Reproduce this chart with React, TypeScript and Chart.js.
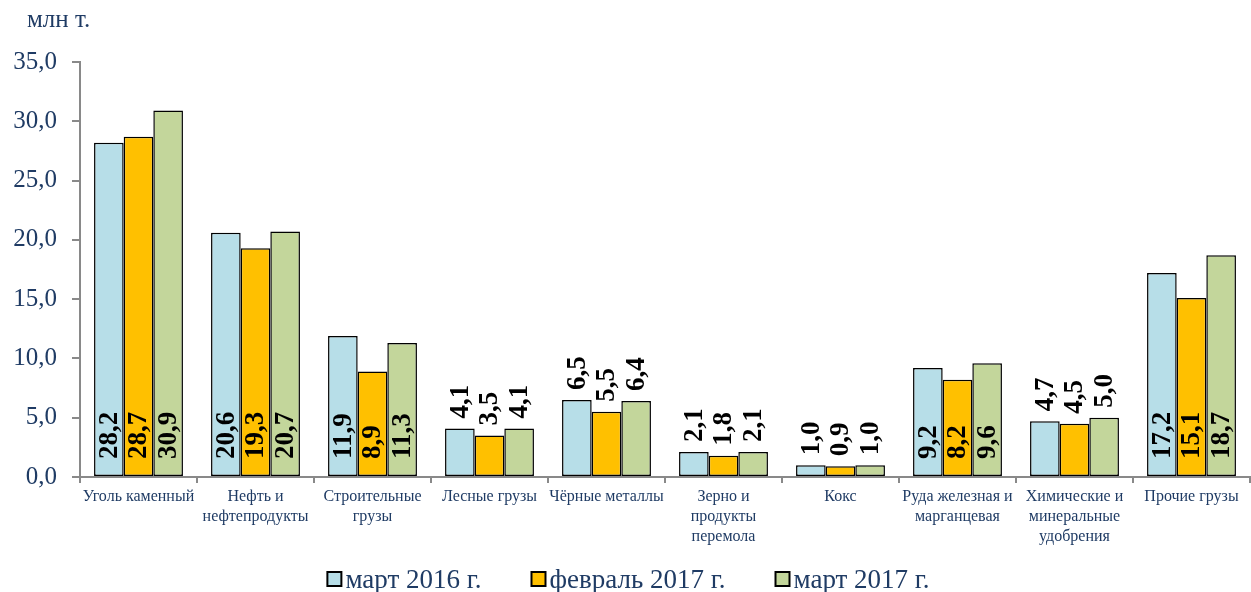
import React, { useEffect, useRef } from "react";
import { Chart, registerables } from "chart.js";

Chart.register(...registerables);

const categories: string[][] = [
  ["Уголь каменный"],
  ["Нефть и", "нефтепродукты"],
  ["Строительные", "грузы"],
  ["Лесные грузы"],
  ["Чёрные металлы"],
  ["Зерно и", "продукты", "перемола"],
  ["Кокс"],
  ["Руда железная и", "марганцевая"],
  ["Химические и", "минеральные", "удобрения"],
  ["Прочие грузы"],
];

const seriesNames = ["март 2016 г.", "февраль 2017 г.", "март 2017 г."];
const march2016 = [28.2, 20.6, 11.9, 4.1, 6.5, 2.1, 1.0, 9.2, 4.7, 17.2];
const feb2017 = [28.7, 19.3, 8.9, 3.5, 5.5, 1.8, 0.9, 8.2, 4.5, 15.1];
const march2017 = [30.9, 20.7, 11.3, 4.1, 6.4, 2.1, 1.0, 9.6, 5.0, 18.7];
const colors = ["#B7DEE8", "#FFC000", "#C3D69B"];
const yTicks = [0, 5, 10, 15, 20, 25, 30, 35];
const unitLabel = "млн т.";

const TEXT = "#1F3B64";
const AXIS = "#898989";
const SERIF = "'Liberation Serif', 'Times New Roman', serif";

const fmt = (v: number) => v.toFixed(1).replace(".", ",");

const labelPlugin = {
  id: "barLabels",
  afterDatasetsDraw(chart: any) {
    const ctx = chart.ctx;
    ctx.save();
    ctx.font = `bold 27px ${SERIF}`;
    ctx.fillStyle = "#000";
    ctx.textBaseline = "middle";
    ctx.textAlign = "left";
    chart.data.datasets.forEach((ds: any, di: number) => {
      const meta = chart.getDatasetMeta(di);
      meta.data.forEach((bar: any, i: number) => {
        const v = ds.data[i];
        const inside = v >= 7;
        const yStart = inside ? bar.base - 17 : bar.y - 10;
        ctx.save();
        ctx.translate(bar.x + 1, yStart);
        ctx.rotate(-Math.PI / 2);
        ctx.fillText(fmt(v), 0, 0);
        ctx.restore();
      });
    });
    ctx.restore();
  },
};

const decorPlugin = {
  id: "decor",
  afterDraw(chart: any) {
    const ctx = chart.ctx;
    ctx.save();
    // unit label
    ctx.font = `25px ${SERIF}`;
    ctx.fillStyle = TEXT;
    ctx.textAlign = "left";
    ctx.textBaseline = "alphabetic";
    ctx.fillText(unitLabel, 27, 27);
    // legend
    ctx.font = `27px ${SERIF}`;
    const box = 14;
    const gapBox = 4;
    const gapItem = 50;
    const widths = seriesNames.map((s) => ctx.measureText(s).width);
    const total =
      widths.reduce((a, w) => a + box + gapBox + w, 0) + gapItem * (seriesNames.length - 1);
    let x = chart.width / 2 - total / 2 + 3;
    const cy = 579;
    seriesNames.forEach((s, i) => {
      ctx.fillStyle = colors[i];
      ctx.fillRect(x, cy - box / 2, box, box);
      ctx.lineWidth = 2;
      ctx.strokeStyle = "#000";
      ctx.strokeRect(x, cy - box / 2, box, box);
      ctx.fillStyle = TEXT;
      ctx.textBaseline = "alphabetic";
      ctx.fillText(s, x + box + gapBox, cy + 9);
      x += box + gapBox + widths[i] + gapItem;
    });
    ctx.restore();
  },
};

export default function App() {
  const ref = useRef<HTMLCanvasElement | null>(null);
  useEffect(() => {
    document.body.style.margin = "0";
    if (!ref.current) return;
    const data = [march2016, feb2017, march2017];
    const chart = new Chart(ref.current, {
      type: "bar",
      data: {
        labels: categories,
        datasets: seriesNames.map((name, i) => ({
          label: name,
          data: data[i],
          backgroundColor: colors[i],
          borderColor: "#000",
          borderWidth: 1.5,
          borderSkipped: false,
          categoryPercentage: 0.76,
          barPercentage: 1.0,
        })),
      },
      options: {
        responsive: false,
        animation: false,
        layout: { padding: { top: 62, right: 1, bottom: 0, left: 0 } },
        plugins: {
          legend: { display: false },
          tooltip: { enabled: false },
          title: { display: false },
        },
        scales: {
          x: {
            grid: {
              drawOnChartArea: false,
              drawTicks: true,
              tickLength: 6,
              color: AXIS,
              lineWidth: 2,
              offset: true,
            },
            border: { color: AXIS, width: 2 },
            ticks: {
              color: TEXT,
              font: { family: SERIF, size: 16, lineHeight: 1.25 },
              padding: 4,
              maxRotation: 0,
              minRotation: 0,
              autoSkip: false,
            },
            afterFit: (scale: any) => {
              scale.height = 115;
            },
          },
          y: {
            min: 0,
            max: 35,
            afterBuildTicks: (scale: any) => {
              scale.ticks = yTicks.map((v) => ({ value: v }));
            },
            grid: {
              drawOnChartArea: false,
              drawTicks: true,
              tickLength: 8,
              color: AXIS,
              lineWidth: 2,
            },
            border: { color: AXIS, width: 2 },
            ticks: {
              color: TEXT,
              font: { family: SERIF, size: 25 },
              padding: 15,
              callback: (v: any) => fmt(Number(v)),
            },
            afterFit: (scale: any) => {
              scale.width = 80;
            },
          },
        },
      },
      plugins: [labelPlugin, decorPlugin],
    });
    return () => chart.destroy();
  }, []);
  return <canvas ref={ref} width={1251} height={592} style={{ display: "block" }} />;
}
